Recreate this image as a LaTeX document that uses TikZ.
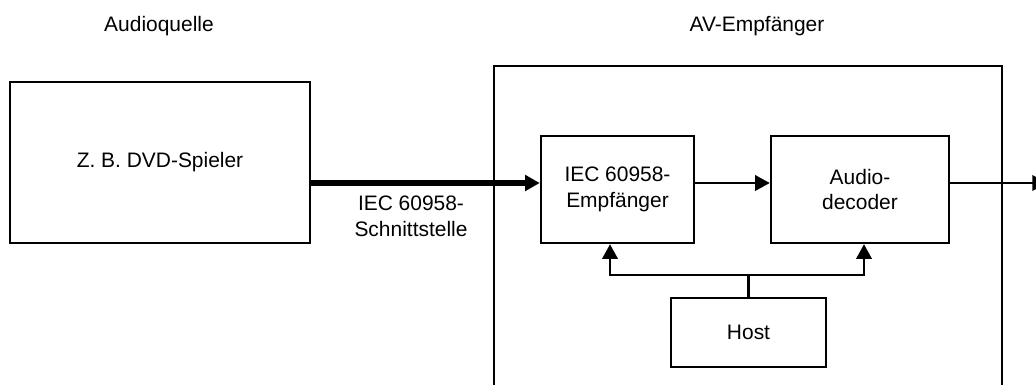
\documentclass[tikz,border=0pt]{standalone}
\usepackage{fontspec}
\setmainfont{Liberation Sans}
\usetikzlibrary{arrows.meta,calc}

\begin{document}
\begin{tikzpicture}[
            x=0.025cm, y=-0.025cm,
            line join=miter,
            >={Triangle[length=10.5pt,width=11pt]},
            font=\fontsize{14.9}{18.4}\selectfont
        ]
        \tikzset{
            block/.style={draw, line width=1.7pt, inner sep=0pt, align=center},
            link/.style={line width=1.7pt},
            bus/.style={line width=4.8pt}
        }
        \useasboundingbox (0,0) rectangle (1036,385);

        % Titles
        \node (srctitle) at (159,26) {Audioquelle};
        \node (avtitle)  at (757,26) {AV-Empf\"anger};

        % Source device
        \node[block, minimum width=7.5cm, minimum height=4.025cm]
            (dvd) at (160,162.5) {Z. B. DVD-Spieler};

        % Receiver frame (runs off the bottom edge)
        \node[block, minimum width=12.7cm, minimum height=8.5cm]
            (av) at (748,236) {};

        % Inner blocks
        \node[block, minimum width=3.825cm, minimum height=2.675cm]
            (rx) at (617.5,189.5) {IEC 60958-\\Empf\"anger};
        \node[block, minimum width=4.45cm, minimum height=2.675cm]
            (dec) at (860,189.5) {Audio-\\decoder};
        \node[block, minimum width=3.875cm, minimum height=1.725cm]
            (host) at (748.5,332.5) {Host};

        % Signal path
        \coordinate (lnk) at (0,183);
        \coordinate (out) at (1047,183);
        \draw[bus,->] (dvd.east |- lnk) -- (rx.west |- lnk);
        \node[align=center] (iflabel) at (411,216) {IEC 60958-\\Schnittstelle};
        \draw[link,->] (rx.east |- lnk) -- (dec.west |- lnk);
        \draw[link,->] (dec.east |- lnk) -- (out);

        % Host control lines
        \coordinate (split) at (748.5,275);
        \coordinate (rxin)  at (610,0);
        \coordinate (decin) at (864,0);
        \draw[link] (host.north) -- (split);
        \draw[link,->] (split) -| (rxin |- rx.south);
        \draw[link,->] (split) -| (decin |- dec.south);

        \end{tikzpicture}
\end{document}
